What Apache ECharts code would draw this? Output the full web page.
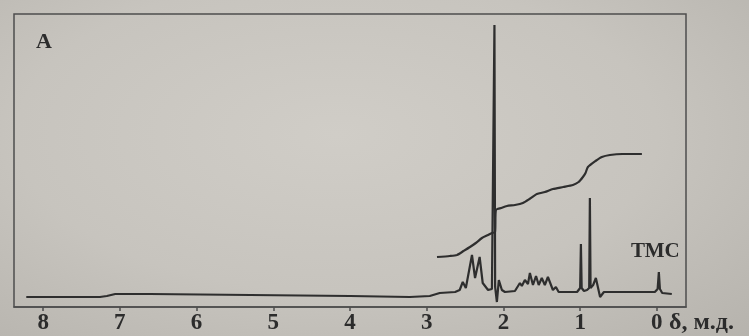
<!DOCTYPE html>
<html>
<head>
<meta charset="utf-8">
<script src="https://cdn.jsdelivr.net/npm/echarts@6/dist/echarts.min.js"></script>
<style>
  html, body { margin: 0; padding: 0; }
  #chart {
    width: 749px; height: 336px;
    background: radial-gradient(ellipse at 45% 40%, #d0cdc7 0%, #c7c4be 55%, #b6b3ad 100%);
  }
</style>
</head>
<body>
<div id="chart"></div>
<script>
// 1H NMR spectrum: chemical shift (ppm) vs. signal intensity (arbitrary units)
const shiftPpm = [
  8.22, 7.26, 7.17, 7.06, 6.61, 5.30, 4.00, 3.22, 2.96, 2.83, 2.63, 2.57,
  2.53, 2.49, 2.41, 2.37, 2.31, 2.27, 2.20, 2.15, 2.125, 2.117, 2.108, 2.085,
  2.06, 2.02, 1.98, 1.85, 1.785, 1.76, 1.72, 1.68, 1.655, 1.615, 1.575, 1.54,
  1.50, 1.46, 1.42, 1.355, 1.316, 1.28, 1.04, 1.0, 0.99, 0.98, 0.95, 0.91,
  0.882, 0.873, 0.864, 0.83, 0.795, 0.74, 0.69, 0.026, -0.01, -0.026, -0.04,
  -0.07, -0.195
];
const intensity = [
  -5, -5, -4, -2, -2, -3, -4, -5, -4, -1, 0, 2,
  10, 4, 37, 14, 35, 9, 2, 3, 5, 267, 5, -10,
  12, 2, 0, 1, 9, 6, 12, 8, 19, 7, 16, 7,
  14, 7, 15, 2, 5, 0, 0, 4, 48, 4, 1, 2,
  4, 94, 4, 7, 14, -5, 0, 0, 3, 20, 3,
  -1, -2
];

// Integral trace
const integralPpm = [
  2.866, 2.70, 2.606, 2.52, 2.436, 2.36, 2.28, 2.20, 2.15, 2.11, 2.098,
  2.03, 1.954, 1.85, 1.746, 1.66, 1.564, 1.46, 1.355, 1.22, 1.094, 1.02,
  0.964, 0.93, 0.899, 0.80, 0.717, 0.612, 0.45, 0.195
];
const integralVal = [
  35, 36, 37, 41, 45, 49, 54, 57, 59, 60, 82,
  84, 86, 87, 89, 93, 98, 100, 103, 105, 107, 110,
  115, 119, 125, 131, 135, 137, 138, 138
];

const tickValues = [0, 1, 2, 3, 4, 5, 6, 7, 8];

const spectrum = shiftPpm.map((p, i) => [p, intensity[i]]);
const integral = integralPpm.map((p, i) => [p, integralVal[i]]);

const ink = '#2c2c2c';
const serif = '"Liberation Serif", "DejaVu Serif", serif';

const chart = echarts.init(document.getElementById('chart'), null, { renderer: 'canvas' });
chart.setOption({
  backgroundColor: 'transparent',
  animation: false,
  grid: {
    left: 14, right: 63, top: 14, bottom: 29,
    show: true, borderColor: '#4e4e4e', borderWidth: 1.5,
    backgroundColor: 'transparent'
  },
  xAxis: {
    type: 'value',
    inverse: true,
    min: -0.38,
    max: 8.38,
    splitLine: { show: false },
    axisLine: { show: true, onZero: false, lineStyle: { color: '#4e4e4e', width: 1.5 } },
    axisTick: {
      show: true, customValues: tickValues, length: 4,
      lineStyle: { color: '#4e4e4e', width: 1.5 }
    },
    axisLabel: {
      customValues: tickValues,
      fontFamily: serif, fontWeight: 'bold', fontSize: 23,
      color: ink, margin: 5
    }
  },
  yAxis: {
    type: 'value',
    min: -15,
    max: 278,
    show: false
  },
  graphic: [
    {
      type: 'text', left: 36, top: 31,
      style: { text: 'A', font: 'bold 22px ' + serif, fill: ink }
    },
    {
      type: 'text', left: 631, top: 241,
      style: { text: 'ТМС', font: 'bold 21px ' + serif, fill: ink }
    },
    {
      type: 'text', left: 669, top: 311,
      style: { text: 'δ, м.д.', font: 'bold 24px ' + serif, fill: ink }
    }
  ],
  series: [
    {
      name: 'spectrum',
      type: 'line',
      data: spectrum,
      showSymbol: false,
      lineStyle: { color: '#2e2e2e', width: 2.2 },
      z: 3
    },
    {
      name: 'integral',
      type: 'line',
      data: integral,
      showSymbol: false,
      smooth: 0.2,
      lineStyle: { color: '#2e2e2e', width: 2.2 },
      z: 2
    }
  ]
});
</script>
</body>
</html>
